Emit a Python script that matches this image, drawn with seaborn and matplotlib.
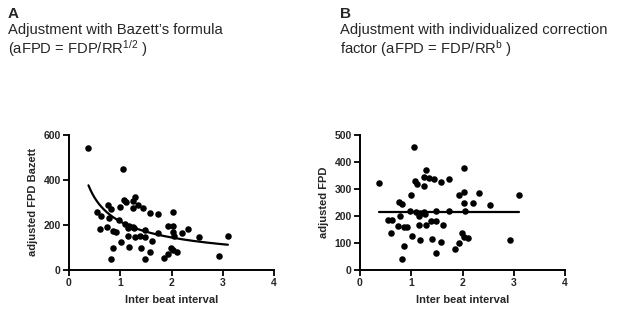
import numpy as np
import pandas as pd
import matplotlib
matplotlib.use("Agg")
import matplotlib.pyplot as plt
import seaborn as sns

# ---- data ----
ibi = [0.38, 1.05, 0.55, 0.63, 0.60, 0.77, 0.82, 0.79, 0.75, 0.85, 0.91, 0.85, 0.81,
       1.00, 0.98, 1.02, 1.08, 1.12, 1.09, 1.15, 1.17, 1.15, 1.17, 1.24, 1.25, 1.28,
       1.24, 1.26, 1.28, 1.35, 1.45, 1.38, 1.40, 1.49, 1.48, 1.48, 1.58, 1.61, 1.59,
       1.74, 1.73, 1.85, 1.93, 1.94, 2.02, 2.03, 2.02, 2.04, 1.99, 2.02, 2.11, 2.20,
       2.32, 2.54, 2.93, 3.10]
afpd_bazett = [542, 449, 257, 238, 182, 288, 270, 229, 192, 174, 168, 97, 47,
               278, 223, 126, 309, 300, 204, 185, 195, 152, 102, 306, 276, 322,
               189, 186, 148, 290, 275, 152, 97, 177, 145, 50, 254, 130, 80,
               250, 163, 55, 69, 197, 259, 197, 168, 152, 97, 88, 80, 164,
               182, 148, 62, 151]
afpd_indiv = [320, 455, 185, 186, 138, 250, 244, 200, 163, 158, 158, 89, 41,
              276, 218, 125, 328, 319, 213, 198, 209, 166, 111, 345, 312, 369,
              215, 207, 165, 339, 336, 182, 115, 218, 181, 62, 325, 168, 102,
              337, 218, 76, 99, 278, 378, 288, 249, 218, 138, 123, 118, 249,
              286, 240, 110, 277]

# fitted curves (parameters)
fit_range = [0.38, 3.10]
bazett_fit_coef, bazett_fit_exp = 215.0, -0.576
indiv_fit_level = 214.0

xticks = [0, 1, 2, 3, 4]
yticks_a = [0, 200, 400, 600]
yticks_b = [0, 100, 200, 300, 400, 500]

titles_a = ["A", "Adjustment with Bazett\u2019s formula", r"(aFPD = FDP/RR$^{\mathrm{1/2}}$ )"]
titles_b = ["B", "Adjustment with individualized correction", r"factor (aFPD = FDP/RR$^{\mathrm{b}}$ )"]

df = pd.DataFrame({"ibi": ibi, "bazett": afpd_bazett, "indiv": afpd_indiv})
xf = np.linspace(fit_range[0], fit_range[1], 200)
fit_a = pd.DataFrame({"x": xf, "y": bazett_fit_coef * xf ** bazett_fit_exp})
fit_b = pd.DataFrame({"x": fit_range, "y": [indiv_fit_level] * 2})

sns.set_style("ticks")
plt.rcParams["font.family"] = ["Liberation Sans", "DejaVu Sans"]
plt.rcParams["mathtext.fontset"] = "custom"
plt.rcParams["mathtext.rm"] = "Liberation Sans"
plt.rcParams["mathtext.it"] = "Liberation Sans:italic"
plt.rcParams["mathtext.bf"] = "Liberation Sans:bold"

W, H = 617, 314
fig = plt.figure(figsize=(W / 100, H / 100), dpi=100)

def px_axes(x0, x1, ytop, ybot):
    return fig.add_axes([x0 / W, 1 - ybot / H, (x1 - x0) / W, (ybot - ytop) / H])

axA = px_axes(69, 274, 134.7, 270)
axB = px_axes(360, 565, 134.7, 270)

for ax, ycol, fit, yt, ylab in [
    (axA, "bazett", fit_a, yticks_a, "adjusted FPD Bazett"),
    (axB, "indiv", fit_b, yticks_b, "adjusted FPD"),
]:
    sns.scatterplot(data=df, x="ibi", y=ycol, ax=ax, color="black", s=22,
                    linewidth=0, zorder=3)
    sns.lineplot(data=fit, x="x", y="y", ax=ax, color="black", lw=1.6,
                 zorder=2, sort=False)
    ax.set_xlim(0, 4)
    ax.set_ylim(yt[0], yt[-1])
    ax.set_xticks(xticks)
    ax.set_yticks(yt)
    ax.set_xlabel("Inter beat interval", fontsize=8, fontweight="bold", labelpad=5)
    ax.set_ylabel(ylab, fontsize=8, fontweight="bold", labelpad=4)
    for lab in ax.get_xticklabels() + ax.get_yticklabels():
        lab.set_fontweight("bold")
    ax.tick_params(axis="both", labelsize=7.5, length=4.5, width=1.3,
                   pad=1.5, direction="out", color="black")
    sns.despine(ax=ax)
    for sp in ["left", "bottom"]:
        ax.spines[sp].set_linewidth(1.4)
        ax.spines[sp].set_color("black")
    ax.spines["left"].set_bounds(yt[0], yt[-1])
    ax.patch.set_alpha(0)

for x0, tl in [(8, titles_a), (340, titles_b)]:
    fig.text(x0 / W, 1 - 18 / H, tl[0], fontsize=11, fontweight="bold", va="baseline")
    fig.text(x0 / W, 1 - 34 / H, tl[1], fontsize=10.6, va="baseline")
    fig.text(x0 / W, 1 - 54 / H, tl[2], fontsize=10.6, va="baseline")

fig.savefig("out.png", dpi=100)
